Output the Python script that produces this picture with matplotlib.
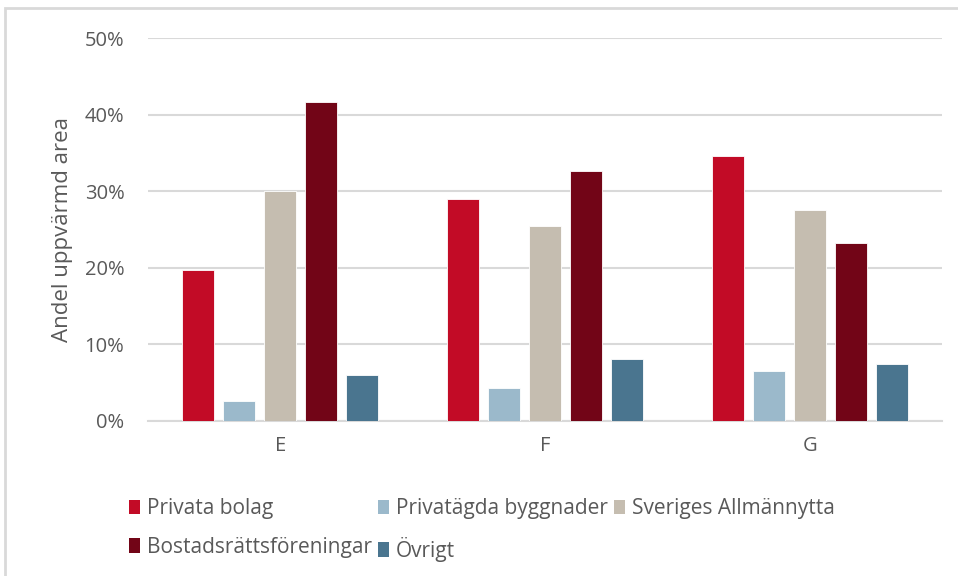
import numpy as np
import matplotlib.pyplot as plt
from matplotlib.patches import Patch, Rectangle
from matplotlib.ticker import PercentFormatter

plt.rcParams['font.family'] = ['Open Sans', 'DejaVu Sans']

categories = ['E', 'F', 'G']
series_names = ['Privata bolag', 'Privatägda byggnader', 'Sveriges Allmännytta',
                'Bostadsrättsföreningar', 'Övrigt']
privata_bolag = [0.197, 0.290, 0.346]
privatagda = [0.026, 0.043, 0.065]
allmannyttan = [0.300, 0.254, 0.276]
brf = [0.417, 0.327, 0.233]
ovrigt = [0.060, 0.081, 0.075]
colors = ['#C20B26', '#9BB9CB', '#C5BDB0', '#720517', '#4A758F']

values = [privata_bolag, privatagda, allmannyttan, brf, ovrigt]
grey = '#595959'
grid = '#D9D9D9'

fig = plt.figure(figsize=(9.58, 5.76), dpi=100)
ax = fig.add_axes([148 / 958, 1 - 421 / 576, 794 / 958, 383 / 576])

x = np.arange(len(categories))
pitch = 0.155
width = 0.121
for i, (vals, c) in enumerate(zip(values, colors)):
    ax.bar(x + (i - 2) * pitch, vals, width, color=c, edgecolor='white',
           linewidth=0.6, zorder=3)

ax.set_xlim(-0.5, 2.5)
ax.set_ylim(0, 0.5)
ax.set_yticks(np.arange(0, 0.51, 0.1))
ax.yaxis.set_major_formatter(PercentFormatter(1.0, decimals=0))
ax.set_xticks(x)
ax.set_xticklabels(categories)
ax.grid(axis='y', color=grid, linewidth=1.5, zorder=0)
for s in ['top', 'right', 'left']:
    ax.spines[s].set_visible(False)
ax.spines['bottom'].set_color(grid)
ax.spines['bottom'].set_linewidth(1.5)
ax.tick_params(axis='both', length=0, colors=grey, labelsize=14.5)
ax.tick_params(axis='y', pad=17)
ax.tick_params(axis='x', pad=11)
ax.set_ylabel('Andel uppvärmd area', color=grey, fontsize=16)
ax.yaxis.set_label_coords(-0.094, 0.5)

handles = [Patch(facecolor=c, edgecolor='none') for c in colors]
order = [0, 3, 1, 4, 2]
fig.legend([handles[i] for i in order], [series_names[i] for i in order],
           loc='upper left', bbox_to_anchor=(121 / 958, 1 - 490 / 576), ncol=3,
           frameon=False, fontsize=15, labelcolor=grey, handlelength=0.5,
           handleheight=0.7, handletextpad=0.35, columnspacing=0.3,
           labelspacing=0.85, borderaxespad=0)

# chart area frame
fig.add_artist(Rectangle((5 / 958, -0.1), 1.2, 1 - 8 / 576 + 0.1, transform=fig.transFigure,
                         fill=False, edgecolor=grid, linewidth=2))

fig.savefig('out.png', dpi=100)
